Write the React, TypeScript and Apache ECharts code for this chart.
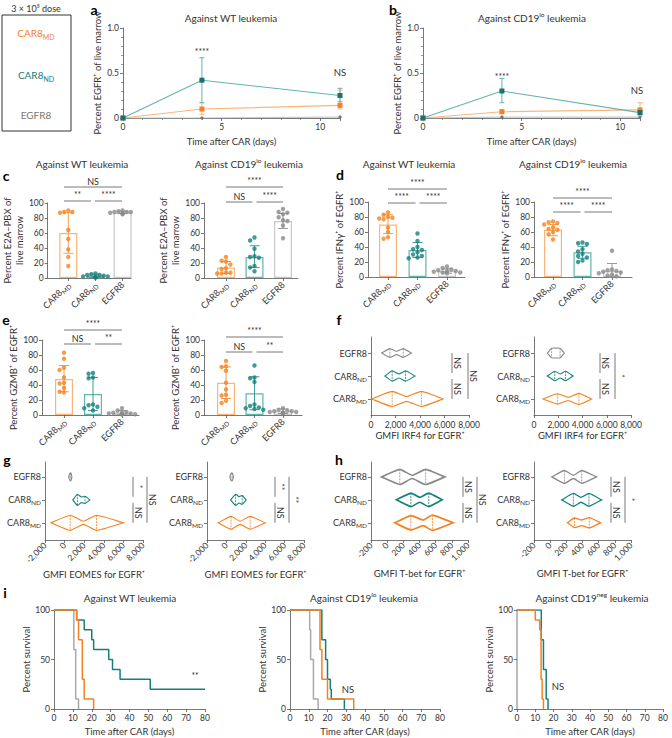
import React, { useEffect, useRef } from 'react';
import * as echarts from 'echarts';

const FONT = 'Lato, "Liberation Sans", Arial, sans-serif';
const TXT = '#333';
const AXIS = '#555';
const ORANGE = '#F5821F';
const ORANGE_L = '#FBB57A';
const TEAL = '#14807B';
const TEAL_L = '#62B4AF';
const GREY = '#8A8A8A';
const GREY_L = '#C8C8C8';

// ---------------- data: a, b (EGFR+ of live marrow over time) ----------------
const timeDays = [0, 4, 11];
const aNDMean = [0, 0.42, 0.25];
const aNDLow = [0, 0.17, 0.18];
const aNDHigh = [0, 0.67, 0.33];
const aMDMean = [0, 0.10, 0.14];
const aMDLow = [0, 0.04, 0.10];
const aMDHigh = [0, 0.17, 0.31];
const aEGFRMean = [0, 0.0, 0.01];
const bNDMean = [0, 0.30, 0.06];
const bNDLow = [0, 0.17, 0.04];
const bNDHigh = [0, 0.44, 0.08];
const bMDMean = [0, 0.07, 0.09];
const bMDLow = [0, 0.05, 0.03];
const bMDHigh = [0, 0.09, 0.17];
const bEGFRMean = [0, 0.01, 0.01];

// ---------------- data: c, d, e (bar + dots) order: MD, ND, EGFR8 ----------------
const cLMeans = [60, 3, 87];
const cLLow = [33, 1, 86];
const cLHigh = [87, 5, 89];
const cLMD = [88, 88, 87, 90, 64, 52, 38, 28, 16];
const cLND = [6, 5, 4, 4, 3, 2, 2, 1, 1, 1];
const cLEG = [90, 89, 88, 88, 87, 87, 86, 86, 85, 88];

const cRMeans = [14, 28, 76];
const cRLow = [6, 14, 66];
const cRHigh = [22, 43, 86];
const cRMD = [28, 23, 22, 18, 13, 12, 7, 7, 6, 6];
const cRND = [54, 50, 39, 29, 28, 27, 16, 14, 9];
const cREG = [92, 88, 87, 85, 81, 77, 76, 70, 53];

const dLMeans = [70, 36, 8];
const dLLow = [58, 26, 5];
const dLHigh = [83, 46, 11];
const dLMD = [86, 83, 80, 79, 78, 77, 66, 60, 53, 51];
const dLND = [58, 48, 40, 37, 36, 33, 30, 28, 26, 25];
const dLEG = [14, 12, 10, 9, 8, 8, 7, 6, 6, 5];

const dRMeans = [63, 33, 8];
const dRLow = [55, 25, 0];
const dRHigh = [70, 41, 18];
const dRMD = [74, 73, 72, 70, 66, 64, 63, 60, 57, 50];
const dRND = [46, 45, 44, 37, 34, 31, 28, 26, 22, 20];
const dREG = [35, 10, 9, 8, 7, 6, 5, 3, 2, 1];

const eLMeans = [48, 28, 3];
const eLLow = [31, 6, 1];
const eLHigh = [66, 50, 6];
const eLMD = [83, 75, 63, 60, 50, 43, 42, 36, 31, 30];
const eLND = [56, 55, 50, 49, 14, 13, 11, 9, 6];
const eLEG = [9, 6, 4, 3, 3, 2, 2, 1, 1, 1];

const eRMeans = [43, 29, 5];
const eRLow = [22, 7, 2];
const eRHigh = [64, 51, 8];
const eRMD = [72, 65, 64, 59, 43, 34, 27, 26, 19, 16];
const eRND = [66, 50, 49, 44, 14, 12, 10, 9, 8, 7];
const eREG = [9, 7, 6, 5, 5, 4, 4, 3, 3, 2];

// ---------------- data: f, g, h violins [min, lobe1, waist, lobe2, max, dens1, densWaist, dens2], order MD, ND, EGFR8
const fLViolins = [
  [50, 1730, 2900, 4120, 5880, 0.95, 0.3, 0.95],
  [1140, 1730, 2280, 2820, 3580, 0.65, 0.25, 0.65],
  [870, 1540, 2090, 2630, 3300, 0.55, 0.2, 0.55],
];
const fRViolins = [
  [750, 1930, 2820, 3700, 4750, 0.65, 0.2, 0.7],
  [1100, 1710, 2150, 2600, 3230, 0.6, 0.25, 0.6],
  [1100, 1450, 1800, 2150, 2500, 0.6, 0.62, 0.6],
];
const gLViolins = [
  [-1380, 570, 1920, 3260, 6010, 0.95, 0.2, 0.95],
  [840, 1310, 1700, 2080, 2590, 0.7, 0.35, 0.45],
  [400, 550, 600, 650, 750, 0.45, 0.5, 0.45],
];
const gRViolins = [
  [-850, 475, 1420, 2440, 4000, 0.8, 0.2, 0.8],
  [440, 950, 1300, 1630, 2030, 0.7, 0.4, 0.55],
  [350, 480, 550, 620, 750, 0.45, 0.5, 0.45],
];
const hLViolins = [
  [95, 293, 445, 560, 815, 0.9, 0.35, 0.95],
  [115, 293, 404, 515, 680, 0.85, 0.3, 0.85],
  [-70, 156, 309, 476, 713, 0.95, 0.2, 0.95],
];
const hRViolins = [
  [213, 300, 390, 485, 623, 0.6, 0.35, 0.65],
  [144, 287, 381, 480, 636, 0.8, 0.3, 0.8],
  [20, 176, 287, 390, 574, 0.8, 0.2, 0.8],
];

// ---------------- data: i survival (day, percent) change points ----------------
const kmWT_EG = [[0, 100], [10.5, 60], [11.5, 10], [13, 0]];
const kmWT_MD = [[0, 100], [12, 90], [13, 70], [15, 30], [16, 10], [21, 0]];
const kmWT_ND = [[0, 100], [12, 90], [16, 80], [20, 70], [21, 60], [29, 50], [31, 40], [35, 30], [51, 20], [80, 20]];
const kmLo_EG = [[0, 100], [10.5, 80], [11, 50], [12.5, 10], [15, 0]];
const kmLo_MD = [[0, 100], [16, 60], [17, 30], [20, 10], [34, 0]];
const kmLo_ND = [[0, 100], [17, 70], [19, 50], [20, 30], [21.5, 20], [22, 10], [29, 0]];
const kmNeg_MD = [[0, 100], [10, 90], [12.4, 80], [13.2, 30], [13.8, 10], [14.5, 0]];
const kmNeg_ND = [[0, 100], [13.3, 70], [14.5, 40], [16, 10], [17, 0]];

const catText = ['{n|CAR8}{s|MD}', '{n|CAR8}{s|ND}', '{n|EGFR8}'];
const CAT_RICH: any = {
  n: { fontFamily: FONT, fontSize: 9, color: TXT, lineHeight: 13 },
  s: { fontFamily: FONT, fontSize: 6.5, color: TXT, lineHeight: 13, verticalAlign: 'bottom' },
};

const tickLabel: any = { fontFamily: FONT, fontSize: 8.5, color: TXT, margin: 4 };
const nameStyle: any = { fontFamily: FONT, fontSize: 9.5, color: TXT };
const axisLine: any = { show: true, onZero: false, lineStyle: { color: AXIS, width: 0.8 } };
const axisTick: any = { show: true, length: 3, lineStyle: { color: AXIS, width: 0.8 } };

const DOT = [ORANGE, TEAL, GREY];
const BAR_BORDER = [ORANGE_L, TEAL_L, GREY_L];
const ERR = ['#F89C4E', '#3E9E99', '#9A9A9A'];

function swarm(vals: number[], tol: number, step: number) {
  const sorted = [...vals].sort((a, b) => b - a);
  const placed: { v: number; o: number }[] = [];
  const seq = [0, -1, 1, -2, 2, -3, 3];
  return sorted.map((v) => {
    const near = placed.filter((p) => Math.abs(p.v - v) < tol);
    let o = 0;
    for (const s of seq) {
      if (!near.some((p) => p.o === s)) { o = s; break; }
    }
    placed.push({ v, o });
    return [o * step, v];
  });
}

function buildOption() {
  const grid: any[] = [];
  const xAxis: any[] = [];
  const yAxis: any[] = [];
  const series: any[] = [];
  const graphic: any[] = [];

  const text = (x: number, y: number, t: string, extra: any = {}) => {
    graphic.push({
      type: 'text', x, y, z: 100,
      rotation: extra.rotation || 0,
      style: {
        text: t, fontFamily: FONT, fontSize: extra.fontSize || 9, fontWeight: extra.fontWeight || 'normal',
        fill: extra.fill || TXT, align: extra.align || 'center', verticalAlign: extra.verticalAlign || 'middle',
        rich: extra.rich,
      },
    });
  };
  const line = (x1: number, y1: number, x2: number, y2: number, stroke = '#555', lw = 0.8) => {
    graphic.push({ type: 'line', z: 100, shape: { x1, y1, x2, y2 }, style: { stroke, lineWidth: lw } });
  };

  const errSeries = (g: number, items: any[], cap: number, lw = 1) => ({
    type: 'custom', xAxisIndex: g, yAxisIndex: g, z: 3,
    encode: { x: 0, y: [1, 2] },
    data: items.map((it) => [it[0], it[1], it[2]]),
    renderItem: (params: any, api: any) => {
      const x = api.value(0), lo = api.value(1), hi = api.value(2);
      const c = items[params.dataIndex][3];
      const a = api.coord([x, lo]);
      const b = api.coord([x, hi]);
      const st = { stroke: c, lineWidth: lw };
      return {
        type: 'group', children: [
          { type: 'line', shape: { x1: a[0], y1: a[1], x2: b[0], y2: b[1] }, style: st },
          { type: 'line', shape: { x1: a[0] - cap, y1: a[1], x2: a[0] + cap, y2: a[1] }, style: st },
          { type: 'line', shape: { x1: b[0] - cap, y1: b[1], x2: b[0] + cap, y2: b[1] }, style: st },
        ],
      };
    },
  });

  // ---------- a / b ----------
  const addTime = (lay: any, nd: number[], ndLo: number[], ndHi: number[], md: number[], mdLo: number[], mdHi: number[], eg: number[]) => {
    const g = grid.length;
    grid.push({ left: lay.left, top: lay.top, width: lay.width, height: lay.height });
    xAxis.push({
      gridIndex: g, type: 'value', min: 0, max: 11, interval: 5,
      axisLine, axisTick, splitLine: { show: false },
      minorTick: { show: true, splitNumber: 5, length: 2, lineStyle: { color: AXIS, width: 0.6 } },
      minorSplitLine: { show: false },
      axisLabel: { ...tickLabel, showMaxLabel: false, formatter: (v: number) => (v === 11 ? '' : String(v)) },
      name: 'Time after CAR (days)', nameLocation: 'middle', nameGap: 18, nameTextStyle: nameStyle,
    });
    yAxis.push({
      gridIndex: g, type: 'value', min: 0, max: 1, interval: 0.5,
      axisLine, axisTick, splitLine: { show: false },
      minorTick: { show: true, splitNumber: 5, length: 2, lineStyle: { color: AXIS, width: 0.6 } },
      minorSplitLine: { show: false },
      axisLabel: { ...tickLabel, formatter: (v: number) => (v === 0 ? '0' : v.toFixed(1)) },
      name: 'Percent EGFR⁺ of live marrow', nameLocation: 'middle', nameGap: 21, nameTextStyle: nameStyle,
    });
    series.push({
      type: 'line', xAxisIndex: g, yAxisIndex: g, z: 2, symbol: 'diamond', symbolSize: 4,
      lineStyle: { color: GREY_L, width: 1.2 }, itemStyle: { color: '#777' },
      data: timeDays.map((d, i) => [d, eg[i]]),
    });
    series.push(errSeries(g, timeDays.map((d, i) => [d, mdLo[i], mdHi[i], ORANGE_L]).slice(1), 2.5));
    series.push(errSeries(g, timeDays.map((d, i) => [d, ndLo[i], ndHi[i], TEAL_L]).slice(1), 2.5));
    series.push({
      type: 'line', xAxisIndex: g, yAxisIndex: g, z: 4, symbol: 'rect', symbolSize: 5,
      lineStyle: { color: ORANGE_L, width: 1.1 }, itemStyle: { color: ORANGE },
      data: timeDays.map((d, i) => [d, md[i]]),
    });
    series.push({
      type: 'line', xAxisIndex: g, yAxisIndex: g, z: 5, symbol: 'rect', symbolSize: 5,
      lineStyle: { color: TEAL_L, width: 1.1 }, itemStyle: { color: '#18736E' },
      data: timeDays.map((d, i) => [d, nd[i]]),
    });
  };
  addTime({ left: 123, top: 28, width: 217, height: 90 }, aNDMean, aNDLow, aNDHigh, aMDMean, aMDLow, aMDHigh, aEGFRMean);
  addTime({ left: 423, top: 28, width: 217, height: 90 }, bNDMean, bNDLow, bNDHigh, bMDMean, bMDLow, bMDHigh, bEGFRMean);

  // ---------- bar panels ----------
  const addBar = (lay: any, yName: string, nameGap: number, means: number[], lows: number[], highs: number[], pts: number[][]) => {
    const g = grid.length;
    const min = (lay.axisX - lay.firstC) / lay.spacing;
    const max = (lay.end - lay.firstC) / lay.spacing;
    grid.push({ left: lay.axisX, top: lay.top, width: lay.end - lay.axisX, height: lay.bottom - lay.top });
    xAxis.push({
      gridIndex: g, type: 'value', min, max, splitLine: { show: false }, axisLine,
      axisTick: { ...axisTick, customValues: [0, 1, 2] },
      axisLabel: { ...tickLabel, customValues: [0, 1, 2], rotate: 45, margin: 5, formatter: (v: number) => catText[Math.round(v)] || '', rich: CAT_RICH },
    });
    yAxis.push({
      gridIndex: g, type: 'value', min: 0, max: 100, interval: 20, splitLine: { show: false },
      axisLine, axisTick, axisLabel: tickLabel,
      name: yName, nameLocation: 'middle', nameGap, nameTextStyle: { ...nameStyle, lineHeight: 12 },
    });
    series.push({
      type: 'bar', xAxisIndex: g, yAxisIndex: g, barWidth: 18, z: 2,
      data: means.map((m, i) => ({ value: [i, m], itemStyle: { color: 'rgba(255,255,255,0)', borderColor: BAR_BORDER[i], borderWidth: 1.2 } })),
    });
    series.push(errSeries(g, means.map((_, i) => [i, lows[i], highs[i], ERR[i]]), 5, 1));
    const unitPerPx = 100 / (lay.bottom - lay.top);
    pts.forEach((arr, i) => {
      series.push({
        type: 'scatter', xAxisIndex: g, yAxisIndex: g, z: 5, symbolSize: 4.4,
        itemStyle: { color: DOT[i] },
        data: swarm(arr, 4.5 * unitPerPx, 4.4 / lay.spacing).map(([o, v]) => [i + o, v]),
      });
    });
  };
  const barBrackets = (lay: any, shortY: number, longY: number, labels: string[]) => {
    const cx = (i: number) => lay.firstC + i * lay.spacing;
    const segs: any[] = [
      [cx(0), cx(1) - 2, shortY, labels[0]],
      [cx(1) + 2, cx(2), shortY, labels[1]],
      [cx(0), cx(2), longY, labels[2]],
    ];
    segs.forEach(([x1, x2, y, t]) => {
      line(x1, y, x2, y);
      text((x1 + x2) / 2, y - 1.5, t, { verticalAlign: 'bottom', fontSize: t === 'NS' ? 9 : 8.5 });
    });
  };

  const cL = { axisX: 42, firstC: 64, spacing: 29, end: 131, top: 203, bottom: 278 };
  const cR = { axisX: 204, firstC: 226, spacing: 28.5, end: 298, top: 203, bottom: 278 };
  const dL = { axisX: 368, firstC: 388, spacing: 29.5, end: 465, top: 202, bottom: 277 };
  const dR = { axisX: 534, firstC: 553, spacing: 29.5, end: 632, top: 202, bottom: 277 };
  const eL = { axisX: 42, firstC: 64, spacing: 29, end: 139, top: 340, bottom: 415 };
  const eR = { axisX: 204, firstC: 226, spacing: 28.5, end: 302, top: 340, bottom: 415 };

  addBar(cL, 'Percent E2A–PBX of\nlive marrow', 15, cLMeans, cLLow, cLHigh, [cLMD, cLND, cLEG]);
  addBar(cR, 'Percent E2A–PBX of\nlive marrow', 17, cRMeans, cRLow, cRHigh, [cRMD, cRND, cREG]);
  addBar(dL, 'Percent IFNγ⁺ of EGFR⁺', 21, dLMeans, dLLow, dLHigh, [dLMD, dLND, dLEG]);
  addBar(dR, 'Percent IFNγ⁺ of EGFR⁺', 21, dRMeans, dRLow, dRHigh, [dRMD, dRND, dREG]);
  addBar(eL, 'Percent GZMB⁺ of EGFR⁺', 21, eLMeans, eLLow, eLHigh, [eLMD, eLND, eLEG]);
  addBar(eR, 'Percent GZMB⁺ of EGFR⁺', 21, eRMeans, eRLow, eRHigh, [eRMD, eRND, eREG]);

  barBrackets(cL, 201, 187, ['**', '****', 'NS']);
  barBrackets(cR, 202, 187, ['NS', '****', '****']);
  barBrackets(dL, 203, 189, ['****', '****', '****']);
  barBrackets(dR, 212, 198, ['****', '****', '****']);
  barBrackets(eL, 344, 330, ['NS', '**', '****']);
  barBrackets(eR, 352, 337, ['NS', '**', '****']);

  // ---------- violin panels ----------
  const VCOL = [ORANGE, TEAL, GREY];
  const addViolin = (lay: any, xMin: number, xMax: number, step: number, rotate: number, xName: string, nameGap: number, items: number[][], lw: number) => {
    const g = grid.length;
    grid.push({ left: lay.left, top: lay.top, width: lay.width, height: lay.height });
    xAxis.push({
      gridIndex: g, type: 'value', min: xMin, max: xMax, interval: step, splitLine: { show: false },
      axisLine, axisTick,
      axisLabel: { ...tickLabel, rotate, margin: rotate ? 4 : 5, formatter: (v: number) => v.toLocaleString('en-US') },
      name: xName, nameLocation: 'middle', nameGap, nameTextStyle: nameStyle,
    });
    yAxis.push({
      gridIndex: g, type: 'value', min: lay.yMin, max: lay.yMax, splitLine: { show: false },
      axisLine, axisTick: { ...axisTick, customValues: [0, 1, 2] },
      axisLabel: { ...tickLabel, customValues: [0, 1, 2], margin: 4, formatter: (v: number) => catText[Math.round(v)] || '', rich: CAT_RICH },
    });
    series.push({
      type: 'custom', xAxisIndex: g, yAxisIndex: g, z: 3,
      encode: { x: [1, 2, 3, 4, 5], y: 0 },
      data: items.map((v, i) => [i, ...v]),
      renderItem: (params: any, api: any) => {
        const cat = api.value(0);
        const HALF = 8;
        const xs = [1, 2, 3, 4, 5].map((k) => api.coord([api.value(k), cat])[0]);
        const cy = api.coord([0, cat])[1];
        const ds = [0, api.value(6), api.value(7), api.value(8), 0].map((d: number) => d * HALF);
        const top = xs.map((x, k) => [x, cy - ds[k]]);
        const bot = xs.map((x, k) => [x, cy + ds[k]]).reverse();
        const c = VCOL[params.dataIndex];
        return {
          type: 'group', children: [
            { type: 'polygon', shape: { points: [...top, ...bot], smooth: 0.15 }, style: { fill: 'rgba(255,255,255,0.9)', stroke: c, lineWidth: lw } },
            { type: 'line', shape: { x1: xs[1], y1: cy - ds[1], x2: xs[1], y2: cy + ds[1] }, style: { stroke: c, lineWidth: 0.8, lineDash: [2, 1] } },
            { type: 'line', shape: { x1: xs[3], y1: cy - ds[3], x2: xs[3], y2: cy + ds[3] }, style: { stroke: c, lineWidth: 0.8, lineDash: [2, 1] } },
          ],
        };
      },
    });
  };
  const rowY = (lay: any, v: number) => lay.top + lay.height * (lay.yMax - v) / (lay.yMax - lay.yMin);
  const violinBrackets = (lay: any, shortX: number, longX: number, labels: string[]) => {
    const yt = rowY(lay, 2), ym = rowY(lay, 1), yb = rowY(lay, 0);
    const segs: any[] = [
      [shortX, yt, ym - 3, labels[0]],
      [shortX, ym + 3, yb, labels[1]],
      [longX, yt, yb, labels[2]],
    ];
    segs.forEach(([x, y1, y2, t]) => {
      line(x, y1, x, y2);
      text(x + 5.5, (y1 + y2) / 2, t, { rotation: -Math.PI / 2, fontSize: t === 'NS' ? 9 : 8.5 });
    });
  };

  const fL = { left: 371, top: 337, width: 98, height: 78, yMin: -0.7, yMax: 2.7 };
  const fR = { left: 534, top: 337, width: 97, height: 78, yMin: -0.7, yMax: 2.7 };
  const gL = { left: 45, top: 462, width: 98, height: 78, yMin: -0.75, yMax: 2.65 };
  const gR = { left: 207, top: 462, width: 97, height: 78, yMin: -0.75, yMax: 2.65 };
  const hL = { left: 371, top: 462, width: 97, height: 78, yMin: -0.75, yMax: 2.65 };
  const hR = { left: 534, top: 462, width: 97, height: 78, yMin: -0.75, yMax: 2.65 };

  addViolin(fL, 0, 8000, 2000, 0, 'GMFI IRF4 for EGFR⁺', 15, fLViolins, 1.1);
  addViolin(fR, 0, 8000, 2000, 0, 'GMFI IRF4 for EGFR⁺', 15, fRViolins, 1.1);
  addViolin(gL, -2000, 8000, 2000, 45, 'GMFI EOMES for EGFR⁺', 29, gLViolins, 1.1);
  addViolin(gR, -2000, 8000, 2000, 45, 'GMFI EOMES for EGFR⁺', 29, gRViolins, 1.1);
  addViolin(hL, -200, 1000, 200, 45, 'GMFI T-bet for EGFR⁺', 28, hLViolins, 1.7);
  addViolin(hR, -200, 1000, 200, 45, 'GMFI T-bet for EGFR⁺', 28, hRViolins, 1.3);

  violinBrackets(fL, 452, 468, ['NS', 'NS', 'NS']);
  violinBrackets(fR, 600, 615, ['NS', 'NS', '*']);
  violinBrackets(gL, 133, 147, ['*', 'NS', 'NS']);
  violinBrackets(gR, 275, 289, ['**', 'NS', '**']);
  violinBrackets(hL, 463, 477, ['NS', 'NS', 'NS']);
  violinBrackets(hR, 611, 625, ['NS', 'NS', '*']);

  // ---------- survival ----------
  const addKM = (lay: any, curves: any[], yAxisColor?: string) => {
    const g = grid.length;
    grid.push({ left: lay.left, top: 610, width: lay.width, height: 99 });
    xAxis.push({
      gridIndex: g, type: 'value', min: 0, max: 80, interval: 10, splitLine: { show: false },
      axisLine, axisTick, axisLabel: tickLabel,
      name: 'Time after CAR (days)', nameLocation: 'middle', nameGap: 17, nameTextStyle: nameStyle,
    });
    yAxis.push({
      gridIndex: g, type: 'value', min: 0, max: 100, interval: 50, splitLine: { show: false },
      axisLine: yAxisColor ? { show: true, onZero: false, lineStyle: { color: yAxisColor, width: 2 } } : axisLine,
      axisTick, axisLabel: tickLabel,
      name: 'Percent survival', nameLocation: 'middle', nameGap: lay.nameGap, nameTextStyle: nameStyle,
    });
    curves.forEach(([data, color]) => {
      series.push({
        type: 'line', xAxisIndex: g, yAxisIndex: g, step: 'end', symbol: 'none', z: 3,
        lineStyle: { color, width: 1.5 }, data,
      });
    });
  };
  addKM({ left: 54, width: 151, nameGap: 21 }, [[kmWT_EG, '#A9A9A9'], [kmWT_ND, TEAL], [kmWT_MD, ORANGE]]);
  addKM({ left: 290, width: 150, nameGap: 21 }, [[kmLo_EG, '#A9A9A9'], [kmLo_ND, TEAL], [kmLo_MD, ORANGE]]);
  addKM({ left: 517, width: 146, nameGap: 23 }, [[kmNeg_ND, TEAL], [kmNeg_MD, ORANGE]], '#BDBDBD');

  // ---------- texts ----------
  const SUP: any = {
    t: { fontFamily: FONT, fontSize: 10, fill: TXT, color: TXT, lineHeight: 14 },
    sup: { fontFamily: FONT, fontSize: 6.5, fill: TXT, color: TXT, lineHeight: 14, verticalAlign: 'top' },
  };
  const title = (x: number, y: number, t: string) => text(x, y, t, { rich: SUP, fontSize: 10 });
  title(231, 18, '{t|Against WT leukemia}');
  title(532, 18, '{t|Against CD19}{sup|lo}{t| leukemia}');
  title(82, 164, '{t|Against WT leukemia}');
  title(249, 164, '{t|Against CD19}{sup|lo}{t| leukemia}');
  title(409, 164, '{t|Against WT leukemia}');
  title(573, 164, '{t|Against CD19}{sup|lo}{t| leukemia}');
  title(130, 598, '{t|Against WT leukemia}');
  title(364, 598, '{t|Against CD19}{sup|lo}{t| leukemia}');
  title(592, 598, '{t|Against CD19}{sup|neg}{t| leukemia}');

  const panel = (x: number, y: number, t: string) => text(x, y, t, { fontSize: 14, fontWeight: 'bold', fill: '#000' });
  panel(94, 9, 'a');
  panel(393, 9, 'b');
  panel(6, 175, 'c');
  panel(340, 174, 'd');
  panel(6, 319, 'e');
  panel(339, 319, 'f');
  panel(7, 459, 'g');
  panel(339, 459, 'h');
  panel(5, 592, 'i');

  // a/b/i annotations
  text(202, 52, '****', { fontSize: 8.5 });
  text(340, 72, 'NS', { fontSize: 9.5 });
  text(502, 77, '****', { fontSize: 8.5 });
  text(637, 90, 'NS', { fontSize: 9.5 });
  text(195, 676, '**', { fontSize: 8.5 });
  text(348, 689, 'NS', { fontSize: 9.5 });
  text(558, 686, 'NS', { fontSize: 9.5 });

  // legend box
  graphic.push({ type: 'rect', z: 100, shape: { x: 2, y: 15, width: 69, height: 116 }, style: { fill: 'none', stroke: '#333', lineWidth: 1 } });
  text(36, 8, '3 × 10⁵ dose', { fontSize: 9 });
  const legRich = (c: string) => ({
    n: { fontFamily: FONT, fontSize: 10, fill: c, color: c, lineHeight: 14 },
    s: { fontFamily: FONT, fontSize: 7, fill: c, color: c, lineHeight: 14, verticalAlign: 'bottom' },
  });
  text(36, 33, '{n|CAR8}{s|MD}', { rich: legRich(ORANGE) });
  text(36, 75, '{n|CAR8}{s|ND}', { rich: legRich(TEAL) });
  text(36, 115, '{n|EGFR8}', { rich: legRich('#777') });

  return {
    animation: false,
    backgroundColor: '#fff',
    textStyle: { fontFamily: FONT },
    grid, xAxis, yAxis, series, graphic,
  };
}

export default function App() {
  const ref = useRef<HTMLDivElement>(null);
  useEffect(() => {
    const chart = echarts.init(ref.current as HTMLDivElement, null, { renderer: 'svg', width: 672, height: 738 });
    chart.setOption(buildOption() as any);
    return () => chart.dispose();
  }, []);
  return <div ref={ref} style={{ position: 'absolute', left: 0, top: 0, width: 672, height: 738, background: '#fff' }} />;
}
